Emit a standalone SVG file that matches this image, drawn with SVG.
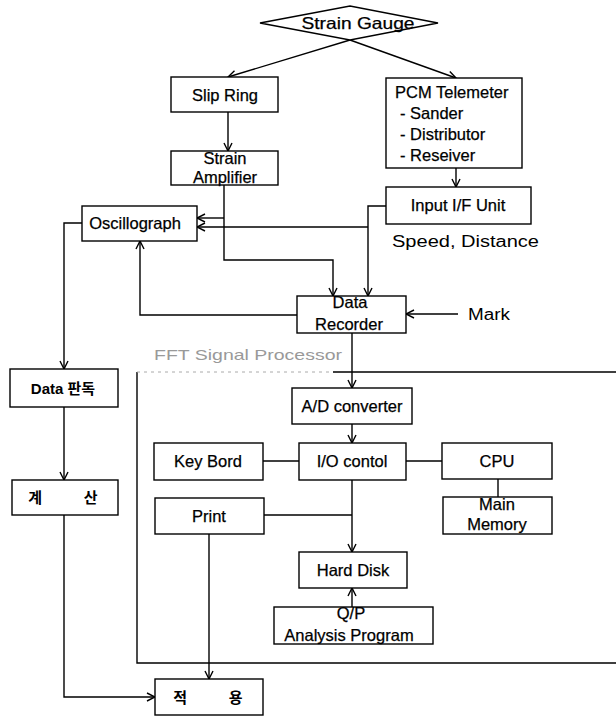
<svg xmlns="http://www.w3.org/2000/svg" width="616" height="716" viewBox="0 0 616 716">
<style>
.b{fill:#fff;stroke:#000;stroke-width:1.4}
.t{font-family:"Liberation Sans",Arial,sans-serif;font-size:16.5px;fill:#000;stroke:#000;stroke-width:0.25;text-anchor:middle}
.k{font-family:"Liberation Sans","Noto Sans CJK KR",sans-serif;font-size:15px;font-weight:bold;fill:#000;text-anchor:middle;white-space:pre}
.c{fill:none;stroke:#000;stroke-width:1.4}
.a{marker-end:url(#ar)}
</style>
<defs>
<marker id="ar" markerWidth="10" markerHeight="10" refX="9" refY="5" orient="auto" markerUnits="userSpaceOnUse">
<path d="M1,1 L9,5 L1,9" fill="none" stroke="#000" stroke-width="1.4"/>
</marker>
</defs>
<rect width="616" height="716" fill="#fff"/>
<g id="fft-frame">
<path d="M333,372 H616 M137,372 V663 H616" class="c"/>
<path d="M137,372 H333" fill="none" stroke="#aaa" stroke-width="1" stroke-dasharray="3,4"/>
<text x="154" y="360" font-family="'Liberation Sans',Arial,sans-serif" font-size="15" fill="#999" textLength="188" lengthAdjust="spacingAndGlyphs">FFT Signal Processor</text>
</g>
<g id="connectors">
<path class="c a" d="M350,40 L228,77"/>
<path class="c a" d="M350,40 L456,78"/>
<path class="c a" d="M228,112 V151"/>
<path class="c a" d="M456,168 V187"/>
<path class="c a" d="M224,185 V260 H333 V296"/>
<path class="c a" d="M224,218 H197"/>
<path class="c a" d="M386,206 H368 V296"/>
<path class="c a" d="M368,227 H197"/>
<path class="c a" d="M297,315 H140 V241"/>
<path class="c a" d="M458,314 H406"/>
<path class="c a" d="M82,223 H64 V369"/>
<path class="c a" d="M64,407 V480"/>
<path class="c a" d="M64,515 V697 H155"/>
<path class="c a" d="M352,333 V388"/>
<path class="c a" d="M352,424 V443"/>
<path class="c" d="M263,461 H299"/>
<path class="c" d="M406,461 H442"/>
<path class="c" d="M498,479 V497"/>
<path class="c a" d="M352,480 V552"/>
<path class="c" d="M264,515 H352"/>
<path class="c a" d="M209,534 V679"/>
<path class="c a" d="M352,607 V588"/>
</g>
<g id="strain-gauge">
<polygon class="b" points="260,23 350,6 438,23 350,40"/>
<text class="t" x="358" y="29" textLength="113" lengthAdjust="spacingAndGlyphs">Strain Gauge</text>
</g>
<g id="slip-ring">
<rect class="b" x="171" y="77" width="107" height="35"/>
<text class="t" x="225" y="101">Slip Ring</text>
</g>
<g id="pcm-telemeter">
<rect class="b" x="386" y="78" width="136" height="90"/>
<text class="t" x="395" y="98" style="text-anchor:start">PCM Telemeter</text>
<text class="t" x="400" y="119" style="text-anchor:start">- Sander</text>
<text class="t" x="400" y="140" style="text-anchor:start">- Distributor</text>
<text class="t" x="400" y="161" style="text-anchor:start">- Reseiver</text>
</g>
<g id="strain-amplifier">
<rect class="b" x="171" y="151" width="107" height="34"/>
<text class="t" x="225" y="164">Strain</text>
<text class="t" x="225" y="183">Amplifier</text>
</g>
<g id="input-if-unit">
<rect class="b" x="386" y="187" width="145" height="37"/>
<text class="t" x="458" y="211">Input I/F Unit</text>
</g>
<g id="speed-distance">
<text x="392" y="247" font-family="'Liberation Sans',Arial,sans-serif" font-size="16" fill="#000" textLength="147" lengthAdjust="spacingAndGlyphs">Speed, Distance</text>
</g>
<g id="oscillograph">
<rect class="b" x="82" y="206" width="115" height="35"/>
<text class="t" x="135" y="229">Oscillograph</text>
</g>
<g id="data-recorder">
<rect class="b" x="297" y="296" width="109" height="37"/>
<text class="t" x="350" y="308">Data</text>
<text class="t" x="349" y="330">Recorder</text>
</g>
<g id="mark">
<text x="468" y="320" font-family="'Liberation Sans',Arial,sans-serif" font-size="16" fill="#000" textLength="42" lengthAdjust="spacingAndGlyphs">Mark</text>
</g>
<g id="data-read">
<rect class="b" x="10" y="369" width="108" height="38"/>
<text class="k" x="63" y="394" font-size="16">Data 판독</text>
</g>
<g id="calc">
<rect class="b" x="12" y="480" width="106" height="35"/>
<text class="k" x="63" y="503">계          산</text>
</g>
<g id="apply">
<rect class="b" x="155" y="679" width="108" height="36"/>
<text class="k" x="208" y="703">적          용</text>
</g>
<g id="ad-converter">
<rect class="b" x="292" y="388" width="120" height="36"/>
<text class="t" x="352" y="412">A/D converter</text>
</g>
<g id="key-bord">
<rect class="b" x="154" y="443" width="109" height="37"/>
<text class="t" x="208" y="467">Key Bord</text>
</g>
<g id="io-control">
<rect class="b" x="299" y="443" width="107" height="37"/>
<text class="t" x="352" y="467">I/O contol</text>
</g>
<g id="cpu">
<rect class="b" x="442" y="443" width="110" height="36"/>
<text class="t" x="497" y="467">CPU</text>
</g>
<g id="main-memory">
<rect class="b" x="443" y="497" width="109" height="37"/>
<text class="t" x="497" y="510">Main</text>
<text class="t" x="497" y="530">Memory</text>
</g>
<g id="print">
<rect class="b" x="155" y="498" width="109" height="36"/>
<text class="t" x="209" y="522">Print</text>
</g>
<g id="hard-disk">
<rect class="b" x="299" y="552" width="108" height="36"/>
<text class="t" x="353" y="576">Hard Disk</text>
</g>
<g id="qp-analysis">
<rect class="b" x="274" y="607" width="159" height="37"/>
<text class="t" x="351" y="619">Q/P</text>
<text class="t" x="349" y="641">Analysis Program</text>
</g>
</svg>
